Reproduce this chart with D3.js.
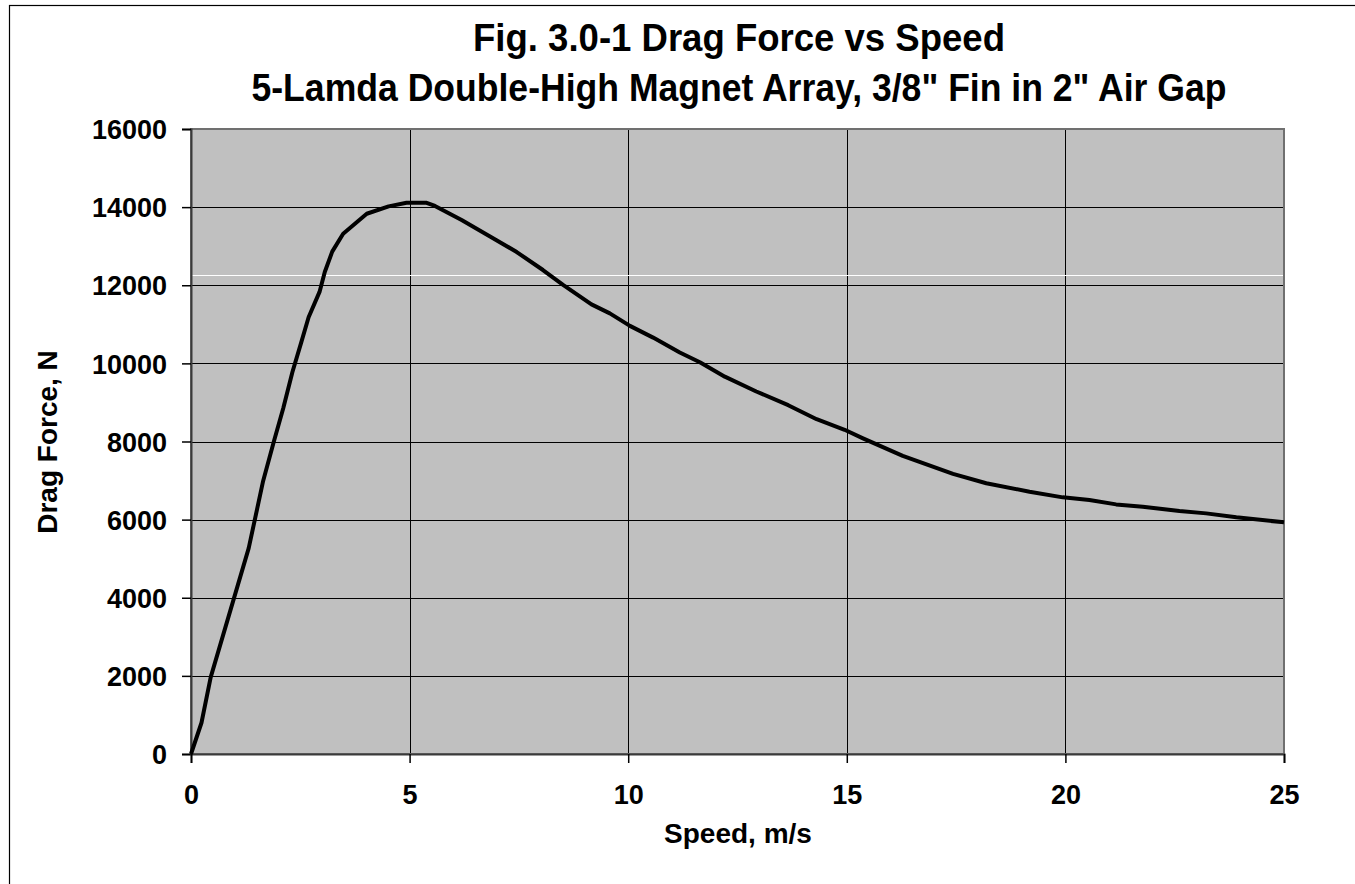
<!DOCTYPE html>
<html>
<head>
<meta charset="utf-8">
<script src="https://cdn.jsdelivr.net/npm/d3@7/dist/d3.min.js"></script>
<style>
  html, body { margin: 0; padding: 0; background: #fff; }
  svg { display: block; }
  text { font-family: "Liberation Sans", Arial, sans-serif; font-weight: bold; fill: #000; }
</style>
</head>
<body>
<svg id="chart" width="1355" height="884"></svg>
<script>
// Drag force measured against speed
const speed = [0, 0.24, 0.45, 1.32, 1.65, 1.90, 2.11, 2.32, 2.52, 2.69, 2.94, 3.06, 3.23, 3.48, 4.02, 4.52, 4.93, 5.39,
  5.58, 6.19, 6.84, 7.45, 8.05, 8.51, 9.16, 9.58, 10.04, 10.57, 11.18, 11.64, 12.21, 12.93, 13.66, 14.31,
  14.95, 15.37, 16.28, 17.43, 18.19, 19.18, 19.94, 20.55, 21.16, 21.77, 22.61, 23.22, 23.91, 25.0];
const dragForce = [0, 800, 1960, 5270, 6990, 8020, 8850, 9780, 10530, 11180, 11830, 12340, 12860, 13320, 13830, 14020, 14110, 14110,
  14030, 13670, 13250, 12850, 12390, 12010, 11510, 11280, 10960, 10660, 10280, 10030, 9660, 9280, 8930, 8570,
  8300, 8080, 7630, 7170, 6930, 6715, 6570, 6500, 6390, 6330, 6220, 6160, 6060, 5930];

const xTicks = [0, 5, 10, 15, 20, 25];
const yTicks = [0, 2000, 4000, 6000, 8000, 10000, 12000, 14000, 16000];
const titleLines = ["Fig. 3.0-1 Drag Force vs Speed", "5-Lamda Double-High Magnet Array, 3/8\" Fin in 2\" Air Gap"];
const titleWidths = [532, 975];
const xTitle = "Speed, m/s";
const yTitle = "Drag Force, N";
const highlightLevel = 12270; // thin white rule across the plot

const svg = d3.select("#chart");
const plot = { left: 191, top: 129, right: 1284, bottom: 754 };

// outer frame of the chart sheet
svg.append("rect")
  .attr("x", 9.5).attr("y", 5.5)
  .attr("width", 1400).attr("height", 1000)
  .attr("fill", "none").attr("stroke", "#000").attr("stroke-width", 1.2);

const x = d3.scaleLinear().domain([0, 25]).range([plot.left, plot.right]);
const y = d3.scaleLinear().domain([0, 16000]).range([plot.bottom, plot.top]);

// plot area background
svg.append("rect")
  .attr("x", plot.left).attr("y", plot.top)
  .attr("width", plot.right - plot.left).attr("height", plot.bottom - plot.top)
  .attr("fill", "#c0c0c0");

// gridlines
const grid = svg.append("g");
grid.selectAll(".hg").data(yTicks.slice(1, -1)).join("line")
  .attr("x1", plot.left).attr("x2", plot.right)
  .attr("y1", d => Math.round(y(d)) + 0.5).attr("y2", d => Math.round(y(d)) + 0.5)
  .attr("stroke", "#000").attr("stroke-width", 1);
grid.selectAll(".vg").data(xTicks.slice(1, -1)).join("line")
  .attr("y1", plot.top).attr("y2", plot.bottom)
  .attr("x1", d => Math.round(x(d)) + 0.5).attr("x2", d => Math.round(x(d)) + 0.5)
  .attr("stroke", "#000").attr("stroke-width", 1);

grid.append("line")
  .attr("x1", plot.left + 1).attr("x2", plot.right - 1)
  .attr("y1", Math.round(y(highlightLevel)) + 0.5).attr("y2", Math.round(y(highlightLevel)) + 0.5)
  .attr("stroke", "#fff").attr("stroke-width", 1);

// plot border
svg.append("rect")
  .attr("x", plot.left).attr("y", plot.top)
  .attr("width", plot.right - plot.left).attr("height", plot.bottom - plot.top)
  .attr("fill", "none").attr("stroke", "#707070").attr("stroke-width", 2);

// axes
const yAxis = d3.axisLeft(y).tickValues(yTicks).tickSize(9).tickPadding(15).tickFormat(d3.format("d"));
const yg = svg.append("g").attr("transform", `translate(${plot.left},0)`).call(yAxis);
const xAxis = d3.axisBottom(x).tickValues(xTicks).tickSize(9).tickPadding(22).tickFormat(d3.format("d"));
const xg = svg.append("g").attr("transform", `translate(0,${plot.bottom})`).call(xAxis);
[yg, xg].forEach(g => {
  g.select(".domain").attr("stroke", "#3a3a3a").attr("stroke-width", 2);
  g.selectAll(".tick line").attr("stroke", "#000").attr("stroke-width", 1.5);
  g.selectAll(".tick text")
    .style("font-family", "'Liberation Sans', Arial, sans-serif")
    .style("font-weight", "bold").style("font-size", "27px").attr("fill", "#000");
});
yg.selectAll(".tick text").attr("dy", "0.36em");
xg.selectAll(".tick text").attr("dy", "0.72em");

// data line
const line = d3.line().x((d, i) => x(speed[i])).y(d => y(d));
svg.append("path")
  .datum(dragForce)
  .attr("d", line)
  .attr("fill", "none")
  .attr("stroke", "#000")
  .attr("stroke-width", 4)
  .attr("stroke-linejoin", "round");

// titles
svg.selectAll(".title").data(titleLines).join("text")
  .attr("x", 739).attr("y", (d, i) => 51 + i * 50)
  .attr("text-anchor", "middle")
  .attr("textLength", (d, i) => titleWidths[i])
  .attr("lengthAdjust", "spacingAndGlyphs")
  .style("font-size", "38px")
  .text(d => d);

svg.append("text")
  .attr("x", 738).attr("y", 843)
  .attr("text-anchor", "middle")
  .style("font-size", "28px")
  .text(xTitle);

svg.append("text")
  .attr("transform", "translate(57,442) rotate(-90)")
  .attr("text-anchor", "middle")
  .style("font-size", "28px")
  .text(yTitle);
</script>
</body>
</html>
